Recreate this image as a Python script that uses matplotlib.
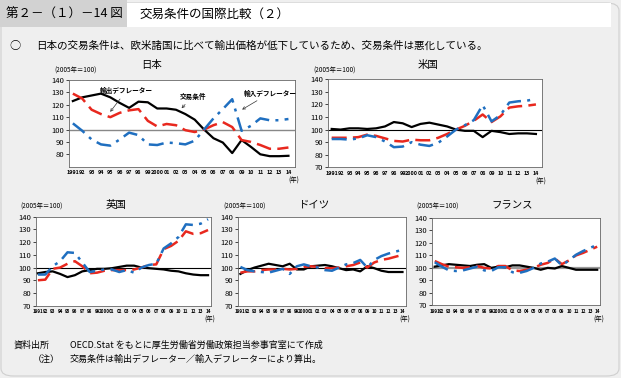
import matplotlib
matplotlib.use("Agg")
import matplotlib.pyplot as plt
from matplotlib.patches import FancyBboxPatch, Rectangle

plt.rcParams['font.family'] = ['Noto Sans CJK JP', 'DejaVu Sans']

W, H = 621, 378
fig = plt.figure(figsize=(W / 100, H / 100), dpi=100)
fig.patch.set_facecolor('#efefef')

def fx(x):
    return x / W

def fy(y):
    return 1 - y / H

years = list(range(1991, 2015))
year_labels = ["1991", "92", "93", "94", "95", "96", "97", "98", "99", "2000",
               "01", "02", "03", "04", "05", "06", "07", "08", "09", "10",
               "11", "12", "13", "14"]

# Japan
jp_tot = [123, 126, 127.5, 129, 126, 121.5, 117.5, 122.5, 122, 117, 117, 116,
          112.5, 108, 100, 93, 89.5, 81, 91.5, 86, 80, 78.5, 78.5, 78.8]
jp_exp = [129, 125, 116, 112.5, 110, 113.5, 115.5, 116.5, 107, 102.5, 104.5, 103.5,
          99.5, 98, 100, 103.5, 106, 102, 91.5, 90, 87.5, 84.5, 84.5, 85.5]
jp_imp = [105, 99, 92, 88, 87, 92, 97.5, 95.5, 88, 87.5, 89.5, 89,
          88, 91, 100, 109, 116.5, 124.5, 99, 103, 109, 107.5, 107.5, 108.5]
# United States
us_tot = [100.5, 100, 101, 101, 100.5, 101, 102.5, 106, 105, 102, 104.5, 105.5,
          104, 102.5, 100, 99, 99, 94, 99, 98, 96.5, 97, 97, 96.5]
us_exp = [93.5, 93.5, 93.5, 94, 96, 95, 93, 91, 90.5, 92, 91.5, 91.5,
          93.5, 96.5, 100, 103, 107, 112, 106, 110.5, 117.5, 118.5, 119, 120]
us_imp = [92.5, 92.5, 92, 93, 95.5, 94, 90.5, 86, 86.5, 90, 88, 87,
          89.5, 94.5, 100, 103.5, 107.5, 119.5, 106.5, 111.5, 121.5, 122.5, 123, 124.5]
# United Kingdom
uk_tot = [95.5, 96.5, 97, 95, 92.5, 94, 97, 98, 99, 99, 99.5, 100.5,
          101.5, 101.5, 100, 99.5, 99, 98.5, 97.5, 97, 95.5, 94.5, 94, 94]
uk_exp = [90, 90.5, 99, 100, 103, 105, 101, 95.5, 96, 97.5, 98, 98,
          98, 98.5, 100, 102, 102.5, 114.5, 117, 121, 128.5, 126.5, 127, 129.5]
uk_imp = [94.5, 94.5, 101, 105, 112, 111.5, 104, 96.5, 97.5, 98.5, 98.5, 96.5,
          98, 96, 100, 102, 103, 115, 119, 124, 134, 133.5, 134.5, 138]
# Germany
de_tot = [95, 98, 100, 101.5, 103, 102, 101, 103, 98.5, 98.5, 101, 101.5,
          102, 101, 99.5, 98, 98.5, 97, 101, 99.5, 97.5, 96.5, 96.5, 96.5]
de_exp = [96, 97, 97, 98, 98.5, 98.5, 99, 98.5, 99, 100.5, 101, 100.5,
          99.5, 99.5, 100, 101, 102, 104, 100, 104, 106, 107, 108.5, 110]
de_imp = [100.5, 98, 97, 96.5, 96, 97.5, 99, 95, 101, 102.5, 101, 100,
          98, 97.5, 100, 102.5, 103.5, 106, 100, 106, 109, 111, 112.5, 114]
# France
fr_tot = [101, 102, 103, 102.5, 102, 101.5, 102.5, 103, 100, 101, 100.5, 102,
          102, 101, 100, 98.5, 100, 99.5, 101.5, 100, 98.5, 98.5, 98.5, 98.5]
fr_exp = [105.5, 103, 101, 100.5, 100, 100.5, 101.5, 100, 99.5, 101.5, 101.5, 98,
          97.5, 98.5, 100, 102.5, 104, 107.5, 103, 106, 110, 112, 114.5, 117]
fr_imp = [104.5, 101, 98, 97.5, 98, 99.5, 101, 98, 97.5, 100.5, 100.5, 96.5,
          96, 97.5, 100, 103.5, 105, 107.5, 102, 106, 110.5, 113.5, 116, 118.5]

RED = '#e8281e'
BLUE = '#1f6fc0'

# ---- header / frame ----
panel = FancyBboxPatch((fx(1), fy(376)), fx(618), fy(3) - fy(376),
                       boxstyle="round,pad=0,rounding_size=0.02",
                       transform=fig.transFigure, facecolor='none',
                       edgecolor='#cfcfcf', linewidth=0.8, zorder=-10)
fig.patches.append(panel)
fig.patches.append(Rectangle((fx(1), fy(27)), fx(610), fy(3) - fy(27),
                             transform=fig.transFigure, facecolor='white',
                             edgecolor='none', zorder=-9))
fig.patches.append(Rectangle((0, fy(27)), fx(127), fy(0) - fy(27),
                             transform=fig.transFigure, facecolor='#d2d2d2',
                             edgecolor='none', zorder=-8))
fig.text(fx(6), fy(14), "第２－（１）－14 図", fontsize=9, va='center', ha='left')
fig.text(fx(140), fy(14), "交易条件の国際比較（２）", fontsize=9, va='center', ha='left')
fig.text(fx(9), fy(46), "○", fontsize=8, va='center', ha='left')
fig.text(fx(36), fy(46), "日本の交易条件は、欧米諸国に比べて輸出価格が低下しているため、交易条件は悪化している。",
         fontsize=7.6, va='center', ha='left')

def make_panel(box, title, title_xy, unit_xy, tot, exp, imp, xl, ylabels70=True,
               ref_color='black', ref_lw=0.8, xfs=3.9):
    left, top, right, bottom = box
    ax = fig.add_axes([fx(left), fy(bottom), fx(right - left), fy(top) - fy(bottom)])
    ax.set_facecolor('white')
    ax.axhline(100, color=ref_color, lw=ref_lw, zorder=1)
    ax.plot(range(24), tot, color='black', lw=1.6, zorder=3)
    ax.plot(range(24), exp, color=RED, lw=1.8, ls=(0, (6, 2.5)), zorder=4)
    ax.plot(range(24), imp, color=BLUE, lw=1.8, ls=(0, (6, 2.5, 1.2, 2.5)), zorder=5)
    ax.set_xlim(*xl)
    ax.set_ylim(70, 140)
    if ylabels70:
        ax.set_yticks(range(70, 141, 10))
    else:
        ax.set_yticks(range(80, 141, 10))
    ax.tick_params(axis='y', labelsize=5.5, length=2, width=0.5, pad=1.5)
    ax.set_xticks(range(24))
    ax.set_xticklabels(year_labels)
    ax.tick_params(axis='x', labelsize=xfs, length=0, pad=2.5)
    for lab in ax.get_xticklabels():
        lab.set_fontweight('bold')
    for s in ax.spines.values():
        s.set_color('#666666')
        s.set_linewidth(0.6)
    fig.text(fx(title_xy[0]), fy(title_xy[1]), title, fontsize=7.5, ha='center', va='center')
    fig.text(fx(unit_xy[0]), fy(unit_xy[1]), "(2005年＝100)", fontsize=4.6, ha='left', va='center')
    fig.text(fx(right - 1), fy(bottom + 14), "(年)", fontsize=4.6, ha='center', va='center')
    return ax

ax_jp = make_panel((69.3, 80, 295, 166.7), "日本", (152, 65), (54, 71),
                   jp_tot, jp_exp, jp_imp, (-0.38, 23.7), ylabels70=False,
                   ref_color='#888888', ref_lw=1.0)
ax_us = make_panel((327.7, 79.3, 541.7, 167.3), "米国", (428, 65), (313, 71),
                   us_tot, us_exp, us_imp, (-0.45, 23.65))
ax_uk = make_panel((35.7, 216.7, 211, 305.7), "英国", (116, 205), (20, 207),
                   uk_tot, uk_exp, uk_imp, (-0.3, 23.4), xfs=3.3)
ax_de = make_panel((238.3, 216.7, 406, 305.7), "ドイツ", (315, 205), (223, 207),
                   de_tot, de_exp, de_imp, (-0.3, 23.5), xfs=3.3)
ax_fr = make_panel((432.3, 218, 600, 305.3), "フランス", (512, 205), (416, 207),
                   fr_tot, fr_exp, fr_imp, (-0.35, 23.4),
                   ref_color='#9a9a9a', ref_lw=1.6, xfs=3.3)

# annotations on Japan chart
arrow = dict(arrowstyle='->', color='#333333', lw=0.5)
ax_jp.annotate("輸出デフレーター", xy=(3.8, 112.5), xytext=(2.9, 131.5),
               fontsize=4.8, fontweight='bold', ha='left', va='center', arrowprops=arrow)
ax_jp.annotate("交易条件", xy=(11.4, 115.5), xytext=(12.8, 127),
               fontsize=4.8, fontweight='bold', ha='center', va='center', arrowprops=arrow)
ax_jp.annotate("輸入デフレーター", xy=(17.8, 115), xytext=(18.2, 129.5),
               fontsize=4.8, fontweight='bold', ha='left', va='center', arrowprops=arrow)

# footer
fig.text(fx(14), fy(345), "資料出所", fontsize=6.5, ha='left', va='center')
fig.text(fx(70), fy(345), "OECD.Stat をもとに厚生労働省労働政策担当参事官室にて作成",
         fontsize=6.5, ha='left', va='center')
fig.text(fx(33), fy(359), "（注）", fontsize=6.5, ha='left', va='center')
fig.text(fx(70), fy(359), "交易条件は輸出デフレーター／輸入デフレーターにより算出。",
         fontsize=6.5, ha='left', va='center')

fig.savefig("out.png", dpi=100, facecolor=fig.get_facecolor())
